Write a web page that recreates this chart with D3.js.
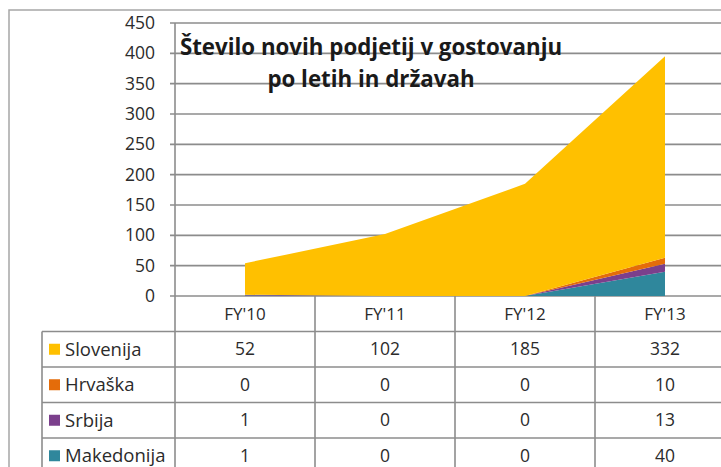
<!DOCTYPE html>
<html>
<head>
<meta charset="utf-8">
<script src="https://cdn.jsdelivr.net/npm/d3@7"></script>
<style>
  body { margin: 0; background: #fff; }
  svg { display: block; font-family: "Open Sans", Lato, sans-serif; }
</style>
</head>
<body>
<div class="area-chart"></div>
<script>
const categories = ["FY'10", "FY'11", "FY'12", "FY'13"];
const countries = ['Slovenija', 'Hrvaška', 'Srbija', 'Makedonija'];
const slovenija = [52, 102, 185, 332];
const hrvaska = [0, 0, 0, 10];
const srbija = [1, 0, 0, 13];
const makedonija = [1, 0, 0, 40];
const yTicks = [0, 50, 100, 150, 200, 250, 300, 350, 400, 450];
const titleLines = ['Število novih podjetij v gostovanju', 'po letih in državah'];

const colors = {
  'Slovenija': '#FFC000',
  'Hrvaška': '#E46C0A',
  'Srbija': '#7B3F8C',
  'Makedonija': '#2F879C'
};

const series = {
  'Slovenija': slovenija,
  'Hrvaška': hrvaska,
  'Srbija': srbija,
  'Makedonija': makedonija
};

const svgWidth = 721;
const svgHeight = 467;
const plot = { left: 175, right: 735, top: 23, bottom: 296 };
const rowHeight = 35.5;
const tableLeft = 42;
const lineColor = '#8c8c8c';
const textColor = '#2b2b2b';

const svg = d3.select('.area-chart')
  .append('svg')
  .attr('width', svgWidth)
  .attr('height', svgHeight);

// outer frame
svg.append('rect')
  .attr('x', 9).attr('y', 10)
  .attr('width', svgWidth + 20).attr('height', svgHeight + 20)
  .attr('fill', 'none')
  .attr('stroke', '#a6a6a6')
  .attr('stroke-width', 1.5);

// scales
const x = d3.scaleBand()
  .domain(categories)
  .range([plot.left, plot.right]);

const xc = d => x(d) + x.bandwidth() / 2;

const y = d3.scaleLinear()
  .domain([0, 450])
  .range([plot.bottom, plot.top]);

// gridlines + y axis
const yAxis = d3.axisLeft(y).tickValues(yTicks).tickSize(0).tickPadding(20);
svg.append('g')
  .attr('transform', `translate(${plot.left}, 0)`)
  .call(yAxis)
  .call(g => g.select('.domain').remove())
  .call(g => g.selectAll('text')
    .attr('font-size', 17.5)
    .attr('font-family', '"Open Sans", sans-serif')
    .attr('fill', textColor));

svg.append('g')
  .selectAll('line')
  .data(yTicks)
  .join('line')
  .attr('x1', plot.left - 5)
  .attr('x2', svgWidth)
  .attr('y1', d => y(d))
  .attr('y2', d => y(d))
  .attr('stroke', lineColor)
  .attr('stroke-width', 1.6);

// stacked areas
const table = categories.map((c, i) => {
  const row = { cat: c };
  countries.forEach(k => row[k] = series[k][i]);
  return row;
});

const stack = d3.stack()
  .keys(['Makedonija', 'Srbija', 'Hrvaška', 'Slovenija']);

const area = d3.area()
  .x(d => xc(d.data.cat))
  .y0(d => y(d[0]))
  .y1(d => y(d[1]));

svg.append('g')
  .selectAll('path')
  .data(stack(table))
  .join('path')
  .attr('d', area)
  .attr('fill', d => colors[d.key]);

// y axis line
svg.append('line')
  .attr('x1', plot.left).attr('x2', plot.left)
  .attr('y1', plot.top).attr('y2', svgHeight)
  .attr('stroke', lineColor)
  .attr('stroke-width', 1.6);

// title
svg.append('g')
  .attr('font-weight', 'bold')
  .attr('font-size', 22.3)
  .attr('text-anchor', 'middle')
  .attr('fill', '#1a1a1a')
  .selectAll('text')
  .data(titleLines)
  .join('text')
  .attr('x', 371)
  .attr('y', (d, i) => 55 + i * 32)
  .text(d => d);

// data table
const grid = svg.append('g')
  .attr('stroke', lineColor)
  .attr('stroke-width', 1.6);

// column separators
grid.selectAll('line.col')
  .data(categories.slice(1))
  .join('line')
  .attr('class', 'col')
  .attr('x1', d => x(d)).attr('x2', d => x(d))
  .attr('y1', plot.bottom).attr('y2', svgHeight);

// row separators
grid.selectAll('line.row')
  .data(countries)
  .join('line')
  .attr('class', 'row')
  .attr('x1', tableLeft).attr('x2', svgWidth)
  .attr('y1', (d, i) => plot.bottom + rowHeight * (i + 1))
  .attr('y2', (d, i) => plot.bottom + rowHeight * (i + 1));

grid.append('line')
  .attr('x1', tableLeft).attr('x2', tableLeft)
  .attr('y1', plot.bottom + rowHeight).attr('y2', svgHeight);

// header labels
svg.append('g')
  .attr('font-size', 17)
  .attr('text-anchor', 'middle')
  .attr('fill', textColor)
  .selectAll('text')
  .data(categories)
  .join('text')
  .attr('x', d => xc(d))
  .attr('y', plot.bottom + rowHeight / 2)
  .attr('dy', '0.35em')
  .text(d => d);

// rows
const rows = svg.append('g')
  .selectAll('g')
  .data(countries)
  .join('g')
  .attr('transform', (d, i) => `translate(0, ${plot.bottom + rowHeight * (i + 1.5)})`);

rows.append('rect')
  .attr('x', 49)
  .attr('y', -5.5)
  .attr('width', 11)
  .attr('height', 11)
  .attr('fill', d => colors[d]);

rows.append('text')
  .attr('x', 65)
  .attr('dy', '0.35em')
  .attr('font-size', 18.5)
  .attr('fill', textColor)
  .text(d => d);

rows.selectAll('text.val')
  .data(d => categories.map((c, i) => ({ cat: c, value: series[d][i] })))
  .join('text')
  .attr('class', 'val')
  .attr('x', d => xc(d.cat))
  .attr('dy', '0.35em')
  .attr('font-size', 17.5)
  .attr('text-anchor', 'middle')
  .attr('fill', textColor)
  .text(d => d.value);
</script>
</body>
</html>
